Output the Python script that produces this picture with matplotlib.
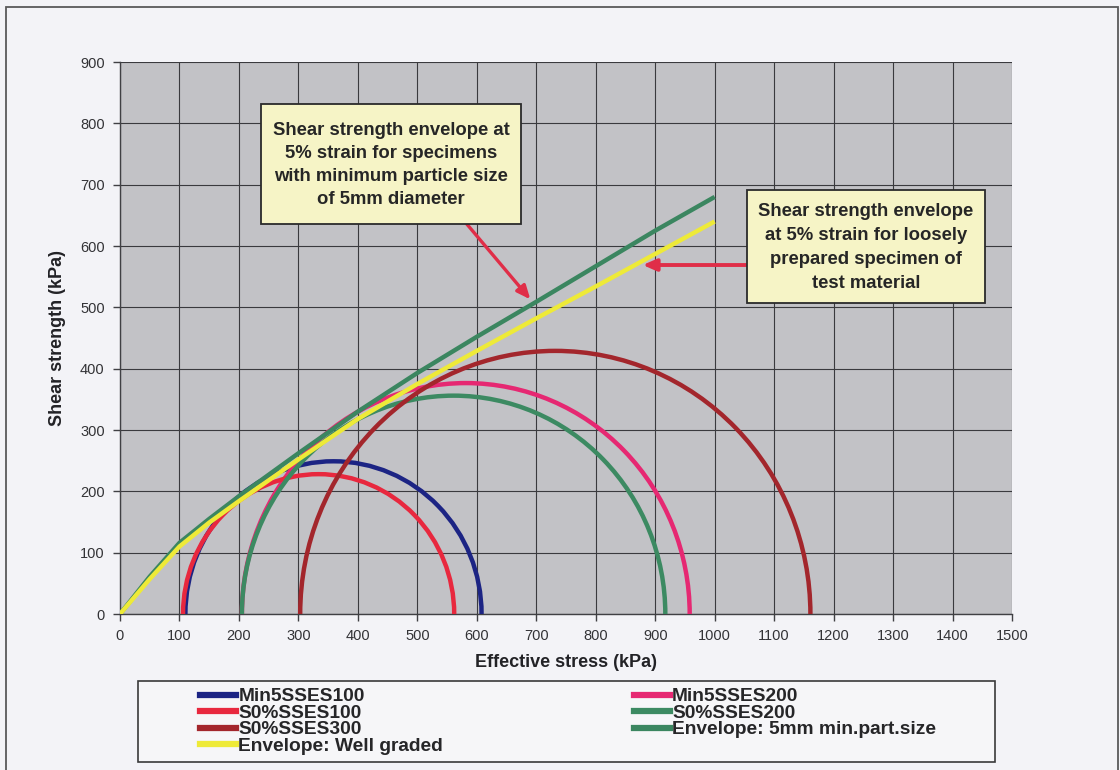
import matplotlib
matplotlib.use("Agg")
import matplotlib.pyplot as plt
from matplotlib.patches import Arc, Rectangle
from matplotlib.lines import Line2D

plt.rcParams['font.family'] = ['Liberation Sans', 'DejaVu Sans']

# Mohr circles: minor and major effective principal stresses (kPa)
circle_names = ["Min5SSES100", "Min5SSES200", "S0%SSES100", "S0%SSES200", "S0%SSES300"]
sigma3 = [110, 205, 106, 205, 303]
sigma1 = [608, 958, 562, 917, 1161]
circle_colors = ["#1c2484", "#e62872", "#e8283e", "#3c8a62", "#a3262c"]

# Failure envelopes at 5% strain
env_stress = [0, 50, 100, 150, 200, 300, 400, 500, 600, 700, 800, 900, 1000]
env_5mm = [0, 61, 116, 155, 192, 262, 330, 393, 452, 509, 567, 625, 680]
env_well = [0, 57, 110, 149, 184, 252, 318, 375, 429, 482, 534, 587, 640]
env_names = ["Envelope: 5mm min.part.size", "Envelope: Well graded"]
env_colors = ["#3b8660", "#eeea38"]

x_ticks = list(range(0, 1501, 100))
y_ticks = list(range(0, 901, 100))

W, H = 1120, 770
fig = plt.figure(figsize=(W / 100, H / 100), dpi=100, facecolor="#f3f3f7")


def fx(px):
    return px / W


def fy(py):
    return 1 - py / H


# outer chart frame
fig.patches.append(Rectangle((fx(6), fy(790)), fx(1118) - fx(6), fy(7) - fy(790),
                             transform=fig.transFigure, fill=False,
                             edgecolor="#5a5a5a", lw=1.3, zorder=0))

ax = fig.add_axes([fx(120), fy(614), fx(1012) - fx(120), fy(62) - fy(614)])
ax.set_facecolor("#c2c2c6")
ax.set_xlim(0, 1500)
ax.set_ylim(0, 900)
ax.set_xticks(x_ticks)
ax.set_yticks(y_ticks)
ax.grid(True, color="#3a3a3e", lw=0.8)
ax.set_axisbelow(True)
for side in ["top", "right"]:
    ax.spines[side].set_visible(False)
for side in ["left", "bottom"]:
    ax.spines[side].set_color("#404044")
    ax.spines[side].set_linewidth(1.0)
ax.tick_params(direction="out", length=5, width=1, color="#404044",
               labelsize=10.5, labelcolor="#333336", pad=6)

ax.set_xlabel("Effective stress (kPa)", fontsize=13, fontweight="bold",
              color="#222226", labelpad=8)
ax.set_ylabel("Shear strength (kPa)", fontsize=13, fontweight="bold",
              color="#222226", labelpad=10)

# Mohr circles as upper half arcs
for s3, s1, col in zip(sigma3, sigma1, circle_colors):
    centre = (s3 + s1) / 2
    diam = s1 - s3
    ax.add_patch(Arc((centre, 0), diam, diam, theta1=0, theta2=180,
                     color=col, lw=3.2, zorder=3))

ax.plot(env_stress, env_5mm, color=env_colors[0], lw=3.2, zorder=4,
        solid_capstyle="butt", solid_joinstyle="round")
ax.plot(env_stress, env_well, color=env_colors[1], lw=3.2, zorder=5,
        solid_capstyle="butt", solid_joinstyle="round")

# callout boxes
box_face = "#f6f4c6"
arrow_col = "#e02e48"
callouts = [
    ((261, 104, 521, 224),
     "Shear strength envelope at\n5% strain for specimens\nwith minimum particle size\nof 5mm diameter", 1.45),
    ((747, 190, 985, 303),
     "Shear strength envelope\nat 5% strain for loosely\nprepared specimen of\ntest material", 1.55),
]
for (x0, y0, x1, y1), txt, ls in callouts:
    fig.patches.append(Rectangle((fx(x0), fy(y1)), fx(x1) - fx(x0), fy(y0) - fy(y1),
                                 transform=fig.transFigure, facecolor=box_face,
                                 edgecolor="#2a2a2a", lw=1.3, zorder=6))
    fig.text(fx((x0 + x1) / 2), fy((y0 + y1) / 2 + 1), txt, ha="center", va="center",
             fontsize=13.3, fontweight="bold", color="#262626", linespacing=ls,
             zorder=7)

# arrows from the callouts to the envelopes
ax.annotate("", xy=(690, 513), xytext=(583, 636),
            arrowprops=dict(arrowstyle="-|>,head_length=0.8,head_width=0.35",
                            color=arrow_col, lw=2.4, shrinkA=0, shrinkB=0),
            zorder=6)
ax.annotate("", xy=(879, 569), xytext=(1054, 569),
            arrowprops=dict(arrowstyle="-|>,head_length=0.8,head_width=0.35",
                            color=arrow_col, lw=2.8, shrinkA=0, shrinkB=0),
            zorder=6)

# legend
fig.patches.append(Rectangle((fx(138), fy(762)), fx(995) - fx(138), fy(681) - fy(762),
                             transform=fig.transFigure, facecolor="#f6f6f8",
                             edgecolor="#3a3a3a", lw=1.2, zorder=1))
handle = {}
for n, c in zip(circle_names, circle_colors):
    handle[n] = Line2D([], [], color=c, lw=4.5)
for n, c in zip(env_names, env_colors):
    handle[n] = Line2D([], [], color=c, lw=4.5)
order = ["Min5SSES100", "S0%SSES100", "S0%SSES300", "Envelope: Well graded",
         "Min5SSES200", "S0%SSES200", "Envelope: 5mm min.part.size"]
leg = fig.legend([handle[n] for n in order], order, ncol=2, mode="expand",
                 loc="upper left",
                 bbox_to_anchor=(fx(200), fy(688), fx(936) - fx(200), 0),
                 frameon=False, borderpad=0, borderaxespad=0,
                 handlelength=1.9, handletextpad=0.1, labelspacing=-0.05,
                 prop=dict(size=13.8, weight="bold"))
for t in leg.get_texts():
    t.set_color("#262628")

fig.savefig("out.png", dpi=100, facecolor=fig.get_facecolor())
